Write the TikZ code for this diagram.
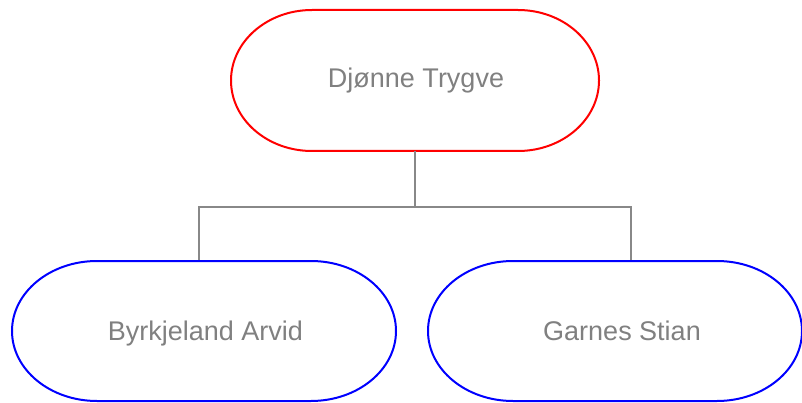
\documentclass[tikz,border=0pt]{standalone}
\usepackage{fontspec}
\setmainfont{Liberation Sans}
\definecolor{txtgray}{HTML}{808080}
\definecolor{linegray}{HTML}{888888}
\tikzset{
  lbl/.style={text=txtgray, font=\fontsize{27}{31}\selectfont, inner sep=0pt, anchor=base},
  rootshape/.style={draw=red, line width=2pt},
  childshape/.style={draw=blue, line width=2pt},
  conn/.style={draw=linegray, line width=2pt},
}
\begin{document}
\begin{tikzpicture}[x=1pt,y=1pt]
\useasboundingbox (0,0) rectangle (802,-403);
% root stadium
\path[rootshape] (312,-10) -- (518,-10)
  arc[start angle=90,end angle=-90,x radius=81,y radius=70.5]
  -- (312,-151)
  arc[start angle=270,end angle=90,x radius=81,y radius=70.5] -- cycle;
\node[lbl] (root) at (416,-88) {Djønne Trygve};
% left child
\path[childshape] (97,-261) -- (311,-261)
  arc[start angle=90,end angle=-90,x radius=85,y radius=70]
  -- (97,-401)
  arc[start angle=270,end angle=90,x radius=85,y radius=70] -- cycle;
\node[lbl] (left) at (205.5,-340) {Byrkjeland Arvid};
% right child
\path[childshape] (513,-261) -- (717,-261)
  arc[start angle=90,end angle=-90,x radius=85,y radius=70]
  -- (513,-401)
  arc[start angle=270,end angle=90,x radius=85,y radius=70] -- cycle;
\node[lbl] (right) at (622,-340) {Garnes Stian};
% connector points
\coordinate (rootb) at (415,-151);
\coordinate (mid) at (415,-207);
\coordinate (lt) at (199,-260);
\coordinate (rt) at (631,-260);
\draw[conn] (rootb) -- (mid);
\draw[conn] (lt) |- (mid) -| (rt);
\end{tikzpicture}
\end{document}
